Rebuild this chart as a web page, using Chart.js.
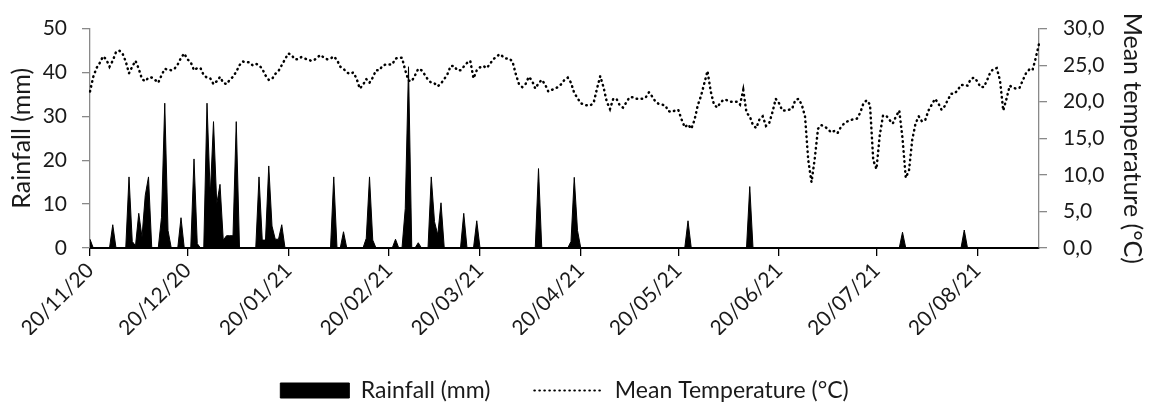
<!DOCTYPE html>
<html>
<head>
<meta charset="utf-8">
<title>Rainfall and mean temperature</title>
<script src="https://cdn.jsdelivr.net/npm/chart.js@4.4.1/dist/chart.umd.min.js"></script>
<style>
  html, body { margin: 0; padding: 0; background: #fff; }
  #wrap { width: 1151px; height: 403px; }
</style>
</head>
<body>
<div id="wrap"><canvas id="rainTempChart" width="1151" height="403"></canvas></div>
<script>
// daily series starting 20/11/20 (one value per day)
const startDate = [2020, 10, 20]; // year, month (0-based), day

const monthTicks = ['20/11/20', '20/12/20', '20/01/21', '20/02/21', '20/03/21',
                    '20/04/21', '20/05/21', '20/06/21', '20/07/21', '20/08/21'];

// Rainfall (mm), daily
const rainfall = [
    2, 0, 0, 0, 0, 0, 0, 5.3, 0, 0, 0, 0, 16.2, 1.5, 0.5, 7.9, 2.5, 12, 16.2, 0,
    0, 0, 7, 33, 4, 0, 0, 0, 6.9, 0, 0, 0, 20.3, 1, 0, 0, 33, 12, 28.8, 10,
    14.5, 1.8, 2.8, 2.8, 2.8, 28.8, 0, 0, 0, 0, 0, 0, 16.2, 1.8, 1.8, 18.7, 5, 2, 2, 5.3,
    0, 0, 0, 0, 0, 0, 0, 0, 0, 0, 0, 0, 0, 0, 0, 16.2, 0, 0, 3.7, 0,
    0, 0, 0, 0, 0, 2.2, 16.2, 1.8, 0, 0, 0, 0, 0, 0, 2, 0, 0, 9, 41.3, 0,
    0, 1.2, 0, 0, 0, 16.2, 6, 3, 10.3, 0, 0, 0, 0, 0, 0, 7.9, 0, 0, 0, 6.2,
    0, 0, 0, 0, 0, 0, 0, 0, 0, 0, 0, 0, 0, 0, 0, 0, 0, 0, 18.1, 0,
    0, 0, 0, 0, 0, 0, 0, 0, 1.5, 16.1, 4, 0, 0, 0, 0, 0, 0, 0, 0, 0,
    0, 0, 0, 0, 0, 0, 0, 0, 0, 0, 0, 0, 0, 0, 0, 0, 0, 0, 0, 0,
    0, 0, 0, 0, 6.2, 0, 0, 0, 0, 0, 0, 0, 0, 0, 0, 0, 0, 0, 0, 0,
    0, 0, 0, 14, 0, 0, 0, 0, 0, 0, 0, 0, 0, 0, 0, 0, 0, 0, 0, 0,
    0, 0, 0, 0, 0, 0, 0, 0, 0, 0, 0, 0, 0, 0, 0, 0, 0, 0, 0, 0,
    0, 0, 0, 0, 0, 0, 0, 0, 0, 0, 3.6, 0, 0, 0, 0, 0, 0, 0, 0, 0,
    0, 0, 0, 0, 0, 0, 0, 0, 0, 4.1, 0, 0, 0, 0, 0, 0, 0, 0, 0, 0,
    0, 0, 0, 0, 0, 0, 0, 0, 0, 0, 0, 0, 0
];

// Mean temperature (°C), daily
const meanTemp = [
    21.4, 23.4, 24.6, 25.3, 26.2, 25.8, 24.8, 25.6, 26.8, 27.0, 26.6, 25.5, 23.9, 24.8, 25.6, 24.5, 23.1, 22.8, 23.3, 23.3,
    23.0, 22.6, 23.6, 24.5, 24.4, 24.3, 24.5, 25.1, 26.0, 26.6, 25.8, 25.4, 24.3, 24.6, 24.6, 23.6, 23.3, 23.2, 22.4, 22.8,
    23.4, 22.6, 22.4, 23.0, 23.4, 24.1, 25.0, 25.5, 25.4, 25.4, 25.0, 25.2, 25.0, 24.5, 23.6, 23.0, 23.1, 23.8, 24.2, 25.0,
    25.8, 26.6, 26.4, 25.8, 25.8, 26.1, 25.9, 25.8, 25.6, 25.7, 26.1, 26.4, 26.0, 25.8, 25.9, 26.2, 25.7, 24.8, 24.5, 24.0,
    23.8, 24.0, 23.2, 21.8, 22.3, 23.1, 22.6, 23.3, 24.3, 24.3, 24.9, 25.1, 25.1, 25.1, 25.9, 26.0, 26.0, 24.3, 22.9, 22.8,
    23.6, 24.5, 24.3, 23.7, 23.0, 22.6, 22.5, 22.1, 22.5, 23.1, 23.8, 24.9, 24.9, 24.3, 24.3, 24.8, 25.3, 25.6, 23.2, 24.3,
    24.7, 24.9, 24.6, 25.1, 25.8, 26.1, 26.5, 26.2, 25.9, 25.9, 25.5, 23.8, 22.4, 22.0, 22.4, 23.4, 22.9, 21.8, 22.5, 23.0,
    22.4, 21.4, 21.6, 21.8, 22.0, 22.4, 23.0, 23.3, 22.6, 21.2, 20.5, 19.8, 19.6, 19.5, 19.5, 19.9, 21.8, 23.5, 22.0, 20.0,
    19.0, 20.4, 20.4, 19.5, 19.2, 19.9, 20.6, 20.6, 20.4, 20.4, 20.4, 20.6, 21.3, 20.7, 20.0, 19.7, 19.6, 19.5, 18.7, 18.6,
    18.8, 18.9, 17.6, 16.5, 16.9, 16.3, 17.5, 19.5, 20.8, 22.5, 24.2, 21.4, 19.6, 19.2, 19.9, 20.3, 20.2, 20.0, 20.0, 20.0,
    19.6, 21.6, 18.5, 18.0, 16.8, 16.4, 17.6, 18.0, 16.7, 17.1, 18.6, 20.4, 19.8, 18.8, 18.8, 18.9, 19.0, 20.2, 20.4, 19.6,
    18.0, 12.0, 9.0, 12.2, 16.3, 16.8, 16.6, 16.3, 15.8, 16.0, 15.7, 16.5, 17.0, 17.3, 17.5, 17.6, 17.7, 18.5, 19.8, 20.2,
    19.6, 12.0, 10.8, 15.4, 18.1, 18.1, 17.5, 17.0, 18.0, 18.8, 15.0, 9.6, 10.6, 14.8, 17.0, 18.0, 17.3, 17.5, 18.8, 19.6,
    20.4, 19.8, 18.9, 19.4, 20.3, 21.1, 21.1, 21.6, 22.3, 22.3, 22.2, 23.1, 23.3, 22.8, 22.0, 22.0, 22.9, 24.0, 24.5, 24.6,
    22.9, 18.8, 20.4, 22.2, 21.9, 21.8, 21.9, 22.9, 23.9, 24.4, 24.3, 26.0, 27.9
];

// one label per day, dd/mm/yy
const dayLabels = rainfall.map((_, i) => {
    const d = new Date(Date.UTC(startDate[0], startDate[1], startDate[2] + i));
    const dd = String(d.getUTCDate()).padStart(2, '0');
    const mm = String(d.getUTCMonth() + 1).padStart(2, '0');
    const yy = String(d.getUTCFullYear()).slice(2);
    return `${dd}/${mm}/${yy}`;
});

const axisGrey = '#898989';
const textColor = '#1a1a1a';

Chart.defaults.font.family = 'Lato, "Open Sans", sans-serif';
Chart.defaults.color = textColor;

const ctx = document.getElementById('rainTempChart').getContext('2d');

new Chart(ctx, {
    type: 'line',
    data: {
        labels: dayLabels,
        datasets: [{
            label: 'Rainfall (mm)',
            data: rainfall,
            yAxisID: 'y',
            fill: 'origin',
            backgroundColor: '#000',
            borderColor: '#000',
            borderWidth: 1,
            pointRadius: 0,
            pointStyle: 'rect',
            tension: 0,
            order: 2
        }, {
            label: 'Mean Temperature (°C)',
            data: meanTemp,
            yAxisID: 'y1',
            fill: false,
            backgroundColor: '#000',
            borderColor: '#000',
            borderWidth: 2.5,
            borderDash: [0.5, 4.5],
            borderCapStyle: 'round',
            pointRadius: 0,
            pointStyle: 'line',
            tension: 0,
            order: 1
        }]
    },
    options: {
        responsive: false,
        animation: false,
        layout: { padding: { top: 21, left: 0, right: 0, bottom: 0 } },
        plugins: {
            legend: {
                position: 'bottom',
                fullSize: false,
                maxHeight: 68,
                labels: {
                    usePointStyle: true,
                    pointStyleWidth: 69,
                    boxHeight: 15,
                    padding: 44,
                    color: textColor,
                    font: { size: 23 },
                    sort: (a, b) => a.datasetIndex - b.datasetIndex,
                    // point styles carry no dash, so copy the line look of each dataset
                    generateLabels: (chart) => {
                        const items = Chart.defaults.plugins.legend.labels.generateLabels(chart);
                        items.forEach(item => {
                            const ds = chart.data.datasets[item.datasetIndex];
                            if (ds.pointStyle === 'line') {
                                item.lineWidth = 2.2;
                                item.lineDash = ds.borderDash;
                                item.lineCap = ds.borderCapStyle;
                            } else {
                                item.lineWidth = 1;
                                item.lineDash = [];
                            }
                            item.strokeStyle = ds.borderColor;
                        });
                        return items;
                    }
                }
            },
            tooltip: { enabled: false }
        },
        scales: {
            x: {
                type: 'category',
                offset: false,
                grid: { drawOnChartArea: false, color: '#000', lineWidth: 1.3, tickLength: 8 },
                border: { color: '#000', width: 2 },
                ticks: {
                    autoSkip: false,
                    minRotation: 45,
                    maxRotation: 45,
                    padding: 2,
                    font: { size: 21 },
                    callback: function(value) {
                        const label = this.getLabelForValue(value);
                        return monthTicks.includes(label) ? label : null;
                    }
                },
                afterFit: (scale) => { scale.height = 87; }
            },
            y: {
                position: 'left',
                min: 0,
                max: 50,
                ticks: { stepSize: 10, padding: 15, font: { size: 21 } },
                grid: { drawOnChartArea: false, color: axisGrey, lineWidth: 1.3, tickLength: 8 },
                border: { color: axisGrey, width: 1.3 },
                title: { display: true, text: 'Rainfall (mm)', font: { size: 25 }, padding: { top: 7, bottom: 0 } },
                afterFit: (scale) => { scale.width = 90; }
            },
            y1: {
                position: 'right',
                min: 0,
                max: 30,
                ticks: {
                    stepSize: 5,
                    padding: 16,
                    font: { size: 21 },
                    callback: (v) => v.toFixed(1).replace('.', ',')
                },
                grid: { drawOnChartArea: false, color: axisGrey, lineWidth: 1.3, tickLength: 8 },
                border: { color: axisGrey, width: 1.3 },
                title: { display: true, text: 'Mean temperature (°C)', font: { size: 25 }, padding: { top: 4, bottom: 0 } },
                afterFit: (scale) => { scale.width = 112; }
            }
        }
    }
});
</script>
</body>
</html>
